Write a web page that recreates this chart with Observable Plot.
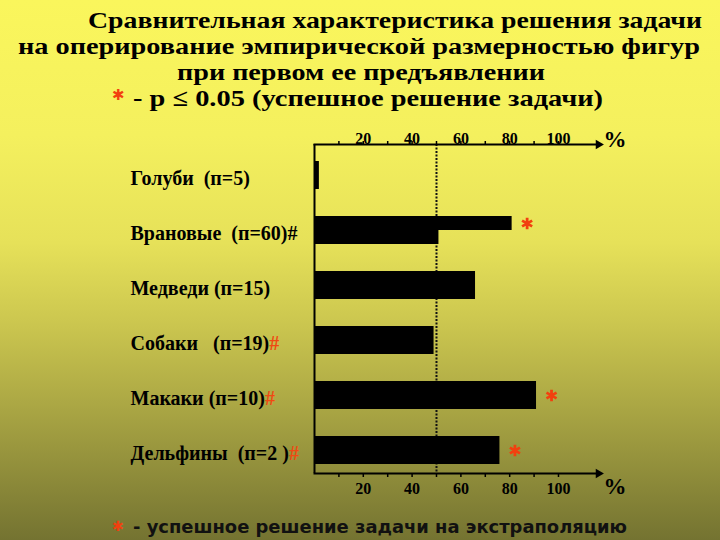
<!DOCTYPE html>
<html><head><meta charset="utf-8">
<script src="https://cdn.jsdelivr.net/npm/d3@7"></script>
<script src="https://cdn.jsdelivr.net/npm/@observablehq/plot@0.6"></script>
<style>
html,body{margin:0;padding:0;}
#wrap{position:relative;width:720px;height:540px;overflow:hidden;
 background:linear-gradient(to bottom,#faf65c 0%,#f4f05e 25%,#e6e159 45%,#cbc64f 60%,#aba744 75%,#747331 100%);}
#wrap svg{position:absolute;left:0;top:0;overflow:visible;}
#wrap text{white-space:pre;}
.ttl{font-family:'Liberation Serif','Times New Roman',serif;font-weight:bold;}
.fn{font-family:'DejaVu Sans',sans-serif;font-weight:bold;}
</style></head><body><div id="wrap"></div>
<script>
// ---- data ----
const categories = ["Голуби","Врановые","Медведи","Собаки","Макаки","Дельфины"];
const labels = ["Голуби  (п=5)","Врановые  (п=60)","Медведи (п=15)","Собаки   (п=19)","Макаки (п=10)","Дельфины  (п=2 )"];
const hashMarks = ["", "#", "", "#", "#", "#"];
const hashColors = ["", "#000000", "", "#f04a12", "#f04a12", "#f04a12"];
const percent = [2, 51, 66, 49, 91, 76];
const percentUpper = [null, 81, null, null, null, null];
const significant = [false, true, false, false, true, true];
const xTicks = [10, 20, 30, 40, 50, 60, 70, 80, 90, 100];
const threshold = 50;
const xMax = 116.4;
const titleLines = [
  "Сравнительная характеристика решения задачи",
  "на оперирование эмпирической размерностью фигур",
  "при первом ее предъявлении",
  "- р ≤ 0.05 (успешное решение задачи)"
];
const footnote = "- успешное решение задачи на экстраполяцию";
const starChar = "✱";

const red = "#f2400f";
const serif = "'Liberation Serif','Times New Roman',serif";

const rows = categories.map((c, i) => ({cat: c, label: labels[i], value: percent[i], upper: percentUpper[i], sig: significant[i]}));
const upperRows = rows.filter(d => d.upper != null);
const starMain = rows.filter(d => d.sig && d.upper == null);
const starUpper = rows.filter(d => d.sig && d.upper != null);

const plot = Plot.plot({
  width: 720, height: 540,
  marginTop: 144, marginBottom: 67, marginLeft: 314, marginRight: 122,
  x: {domain: [0, xMax], axis: null},
  y: {domain: categories, axis: null, paddingInner: 0.49, paddingOuter: 0.235, align: 0.65},
  style: {background: "transparent", fontFamily: serif, fontWeight: "bold", color: "#000", fontSize: "16px"},
  marks: [
    Plot.ruleX([threshold], {stroke: "#111", strokeWidth: 2, strokeDasharray: "2,1.5"}),
    Plot.barX(rows, {y: "cat", x: "value", fill: "#000"}),
    Plot.barX(upperRows, {y: "cat", x: "upper", fill: "#000", insetBottom: 14}),
    Plot.ruleX([0], {stroke: "#000", strokeWidth: 2}),
    Plot.frame({anchor: "top", stroke: "#000", strokeWidth: 2}),
    Plot.frame({anchor: "bottom", stroke: "#000", strokeWidth: 2}),
    Plot.dot(["a"], {frameAnchor: "top-right", symbol: "triangle", rotate: 90, r: 3.5, fill: "#000", stroke: "none"}),
    Plot.dot(["a"], {frameAnchor: "bottom-right", symbol: "triangle", rotate: 90, r: 3.5, fill: "#000", stroke: "none"}),
    Plot.axisX({anchor: "top", ticks: xTicks, tickSize: 4, tickPadding: -3, strokeWidth: 1.5,
      tickFormat: d => d % 20 === 0 ? String(d) : "", fontSize: 16, fontWeight: "bold", label: null}),
    Plot.axisX({anchor: "bottom", ticks: xTicks, tickSize: 4, tickPadding: 5, strokeWidth: 1.5,
      tickFormat: d => d % 20 === 0 ? String(d) : "", fontSize: 16, fontWeight: "bold", label: null}),
    Plot.text(["%"], {frameAnchor: "top-right", lineAnchor: "middle", dx: 5, dy: -5, textAnchor: "start", fontSize: 23}),
    Plot.text(["%"], {frameAnchor: "bottom-right", lineAnchor: "middle", dx: 5, dy: 13, textAnchor: "start", fontSize: 23}),
    Plot.text(rows, {y: "cat", text: "label", frameAnchor: "left", dx: -184, dy: 3, textAnchor: "start",
      fontSize: 20, fontWeight: "bold", fill: "#000"}),
    Plot.dot(starMain, {x: "value", y: "cat", dx: 15, symbol: "asterisk", r: 5.5, stroke: red, strokeWidth: 2.8}),
    Plot.dot(starUpper, {x: "upper", y: "cat", dx: 15, dy: -7, symbol: "asterisk", r: 5.5, stroke: red, strokeWidth: 2.8})
  ]
});
document.getElementById("wrap").appendChild(plot);

// coloured "#" suffixes on the category labels
d3.select(plot).selectAll("text").each(function() {
  const i = labels.indexOf(this.textContent);
  if (i >= 0 && hashMarks[i]) d3.select(this).append("tspan").attr("fill", hashColors[i]).text(hashMarks[i]);
});

// title and footnote
const over = d3.select("#wrap").append("svg").attr("width", 720).attr("height", 540);
const tl = [
  {x: 88, y: 28, len: 614},
  {x: 18, y: 54, len: 682},
  {x: 177, y: 80, len: 368},
  {x: 133, y: 106, len: 470}
];
titleLines.forEach((t, i) => {
  over.append("text").attr("class", "ttl").attr("x", tl[i].x).attr("y", tl[i].y)
    .attr("textLength", tl[i].len).attr("lengthAdjust", "spacingAndGlyphs")
    .style("font-size", "24px").attr("fill", "#000").text(t);
});
over.append("text").attr("class", "fn").attr("x", 112).attr("y", 100)
  .style("font-size", "15px").attr("fill", red).text(starChar);
over.append("text").attr("class", "fn").attr("x", 112).attr("y", 531)
  .style("font-size", "14px").attr("fill", red).text(starChar);
over.append("text").attr("class", "fn").attr("x", 133).attr("y", 533).attr("textLength", 494).attr("lengthAdjust", "spacingAndGlyphs")
  .style("font-size", "18px").attr("fill", "#111").text(footnote);
</script></body></html>
